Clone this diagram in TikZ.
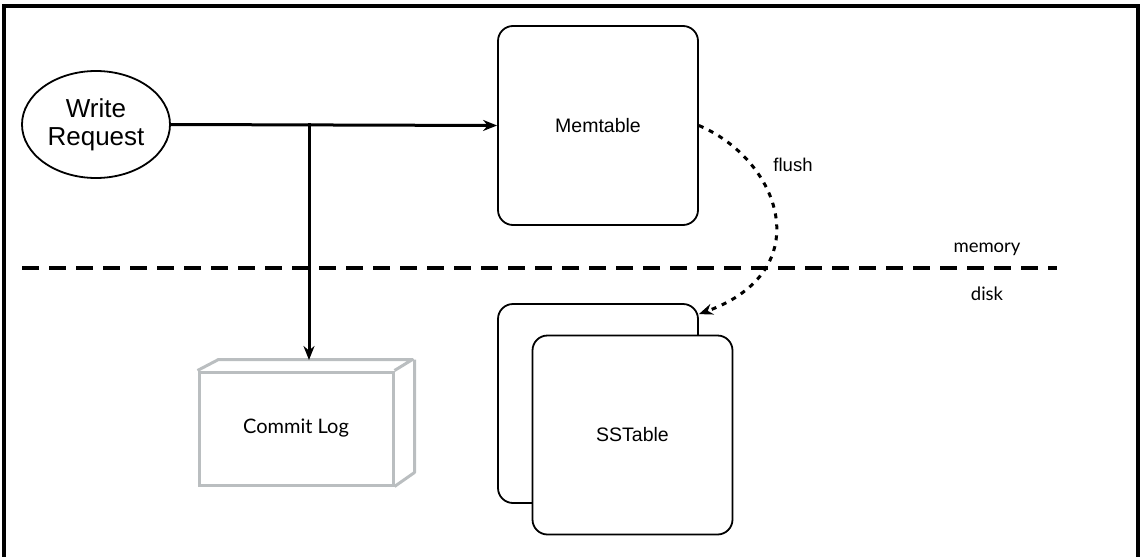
\documentclass[tikz,border=0pt]{standalone}
\usepackage{fontspec}
\setmainfont{Liberation Sans}
\newfontfamily\avfont{Lato}
\usetikzlibrary{shapes.geometric, arrows.meta}
\definecolor{loggray}{HTML}{BABEC0}
\tikzset{every picture/.style={line width=1.8pt}}
\tikzset{
  tablebox/.style={draw, rounded corners=15pt, fill=white, minimum width=200pt, minimum height=199pt, inner sep=0pt, font=\fontsize{19.5}{22}\selectfont},
  flow/.style={line width=3pt, -{Stealth[length=14pt, width=11pt]}},
}

\begin{document}
\begin{tikzpicture}[x=1pt, y=-1pt]
        \useasboundingbox (0,0) rectangle (1141,557);
        \draw[line width=3.5pt] (4,557) -- (4,6) -- (1138,6) -- (1138,557);

        \node[ellipse, draw, minimum width=148pt, minimum height=107pt, inner sep=0pt, align=center, font=\fontsize{26}{28}\selectfont] (wreq) at (96,124.5) {Write\\Request};
        \node[tablebox] (memtable) at (598,125.5) {Memtable};
        \node[tablebox] (ssback)   at (598,403.5) {};
        \node[tablebox] (sstable)  at (632.5,435) {SSTable};

        % commit log box
        \node[draw=loggray, line width=3pt, minimum width=194pt, minimum height=113pt, inner sep=0pt, font=\avfont\fontsize{20}{24}\selectfont] (commitlog) at (296,428.5) {Commit Log};
        \draw[loggray, line width=3pt, line join=round] (commitlog.north west) -- ++(21,-11) -- ++(194,0) -- (commitlog.north east)
              (commitlog.north east) ++(20,-11) -- ++(0,113) -- (commitlog.south east);

        \coordinate (split)  at (309,124.5);
        \coordinate (logtop) at (309,360);
        \draw[flow] (wreq.east) -- (memtable.west);
        \draw[line width=3pt] (split) -- ++(0,-1.5);
        \draw[flow] (split) -- (logtop);

        \draw[line width=3.2pt, dash pattern=on 17pt off 10pt] (22,268) -- (1057,268);
        \node[font=\avfont\fontsize{18.5}{20}\selectfont] (mem)  at (987,249) {memory};
        \node[font=\avfont\fontsize{18.5}{20}\selectfont] (disk) at (987,294) {disk};

        \draw[flow, dash pattern=on 5pt off 6pt] (memtable.east) .. controls (780,160) and (820,270) .. ([yshift=-11pt]ssback.north east);
        \node[font=\fontsize{18.5}{20}\selectfont] (flushlbl) at (793,165) {flush};
    \end{tikzpicture}
\end{document}
